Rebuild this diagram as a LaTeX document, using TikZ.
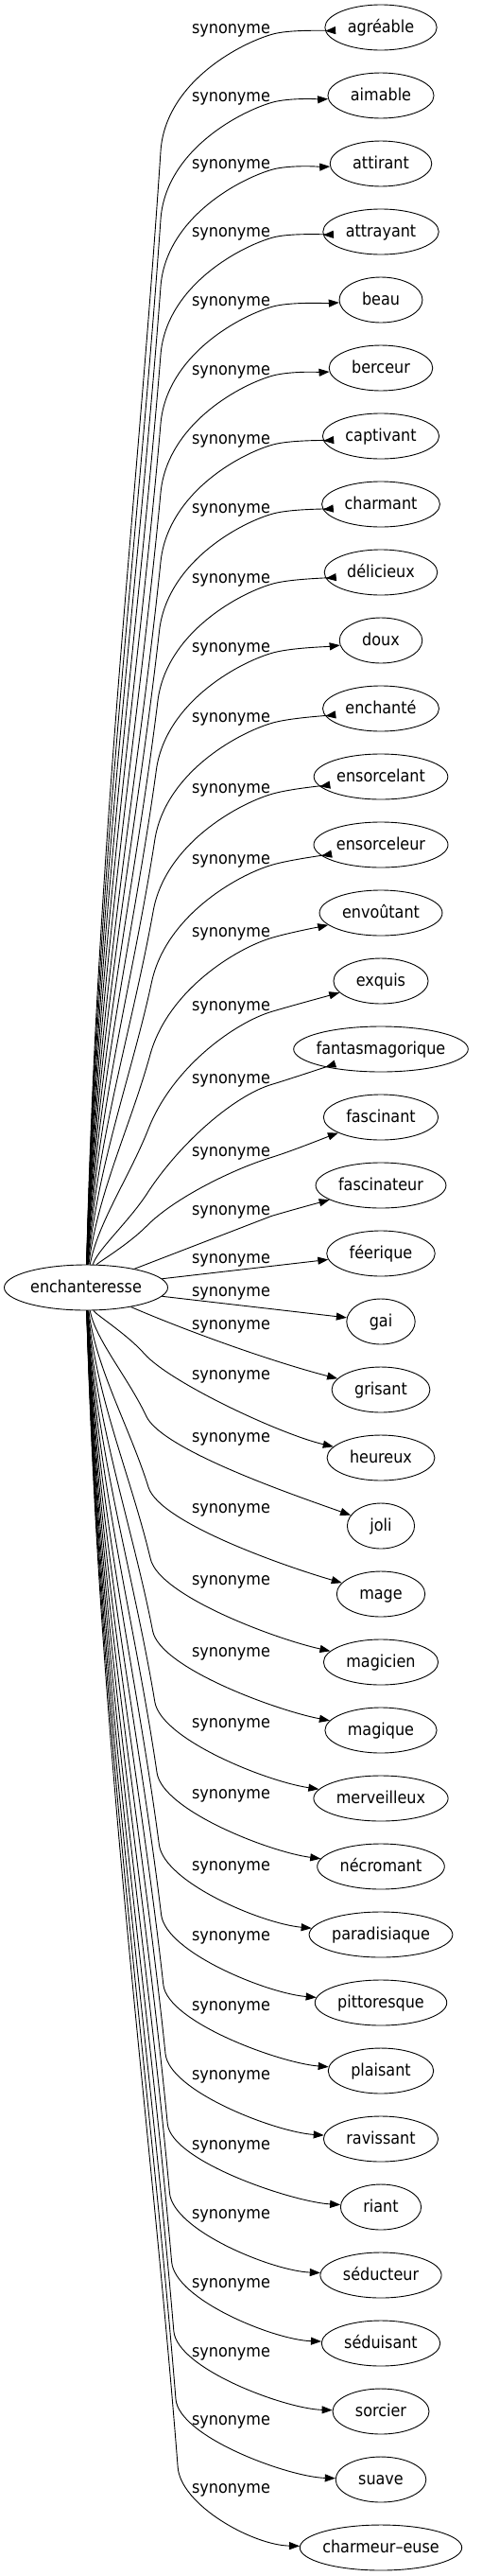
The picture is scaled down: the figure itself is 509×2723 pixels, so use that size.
\documentclass[tikz,border=0pt]{standalone}
\usepackage{fontspec}
\setmainfont{DejaVu Sans Condensed}
\usetikzlibrary{calc,arrows.meta,shapes.geometric}
\newcommand\wordfont{\normalfont\fontsize{17.8pt}{21pt}\selectfont}
\newcommand\shrunk[1]{\makebox[0.70711\width]{#1}}
\begin{document}
\begin{tikzpicture}[x=1pt,y=-1pt,
  every node/.style={font=\wordfont},
  word/.style={draw, shape=ellipse, inner xsep=16.97pt, inner ysep=0pt, minimum height=48pt, text height=14pt, text depth=3pt, line width=0.9pt},
  lab/.style={anchor=base, inner sep=0pt},
  synedge/.style={draw, line width=0.9pt, -{Triangle[length=11pt,width=8pt]}}]
\fill[white] (0,0) rectangle (509,2723);
\useasboundingbox (0,0) rectangle (509,2723);
\node[word, inner xsep=0pt, minimum width=173pt] (src) at (91,1361) {\makebox[0pt]{enchanteresse}};
\foreach \w [count=\i from 0] in {agréable,aimable,attirant,attrayant,beau,berceur,captivant,charmant,délicieux,doux,enchanté,ensorcelant,ensorceleur,envoûtant,exquis,fantasmagorique,fascinant,fascinateur,féerique,gai,grisant,heureux,joli,mage,magicien,magique,merveilleux,nécromant,paradisiaque,pittoresque,plaisant,ravissant,riant,séducteur,séduisant,sorcier,suave,charmeur–euse} {
  \node[word] (n\i) at (403,{29+72*\i}) {\shrunk{\w}};
}
\foreach \i/\L in {0/30,1/102,2/173,3/245,4/318,5/391,6/464,7/537,8/611,9/684,10/758,11/833,12/908,13/985,14/1063,15/1140,16/1217,17/1279,18/1330,19/1365,20/1400,21/1453,22/1519,23/1594,24/1670,25/1746,26/1821,27/1896,28/1972,29/2046,30/2120,31/2193,32/2267,33/2340,34/2413,35/2486,36/2558,37/2630} {
  \node[lab] (l\i) at (244.5,{\L+5.5}) {synonyme};
}
% upper edges
\foreach \i/\L in {0/30,1/102,2/173,3/245,4/318,5/391,6/464,7/537,8/611,9/684,10/758,11/833,12/908,13/985,14/1063,15/1140,16/1217} {
  \pgfmathsetmacro\Ky{min(\L+130,1361-0.45*(1361-\L))}
  \pgfmathsetmacro\Kx{170-13*max(0,(\Ky-600)/600)}
  \pgfmathsetmacro\H{1361-\Ky}
  \pgfmathsetmacro\kk{0.54*(\Ky-\L)}
  \pgfmathsetmacro\Jy{\L+6.5}
  \coordinate (K\i) at (\Kx,\Ky);
  \coordinate (J\i) at (287,\Jy);
  \draw[synedge] (src) .. controls (102.9,{1361-0.4*\H}) and ($(K\i)!0.3!(src)$) .. (K\i)
     .. controls ($(K\i)!-\kk pt!(src)$) and (248.6,{\Jy+11.6}) .. (J\i)
     .. controls (306.2,{\Jy-5.8}) and ($(J\i)!0.5!(n\i)$) .. (n\i);
}
% middle edges
\coordinate (J17) at (287,1285.5);
\draw[synedge] (src) -- (J17) .. controls (306.2,1279.7) and ($(J17)!0.5!(n17)$) .. (n17);
\draw[synedge] (src) -- (n18);
\draw[synedge] (src) -- (n19);
\draw[synedge] (src) .. controls (200,1408) and (290,1440) .. (n20);
% lower edges
\foreach \i/\L in {21/1453,22/1519,23/1594,24/1670,25/1746,26/1821,27/1896,28/1972,29/2046,30/2120,31/2193,32/2267,33/2340,34/2413,35/2486,36/2558,37/2630} {
  \pgfmathsetmacro\Ny{29+72*\i}
  \pgfmathsetmacro\Ky{\L-22}
  \pgfmathsetmacro\Kx{190-40*(1-(\L-1361)/1330)}
  \pgfmathsetmacro\H{\Ky-1361}
  \pgfmathsetmacro\Cx{91+0.15*(\Kx-91)}
  \pgfmathsetmacro\off{-(\Ny-\L-60)*0.9}
  \coordinate (K\i) at (\Kx,\Ky);
  \draw[synedge] (src) .. controls (\Cx,{1361+0.4*\H}) and ($(K\i)!0.3!(src)$) .. (K\i)
     .. controls ($(K\i)!-40pt!(src)$) and ($(n\i.west)+(-50,\off)$) .. (n\i);
}
\end{tikzpicture}
\end{document}
